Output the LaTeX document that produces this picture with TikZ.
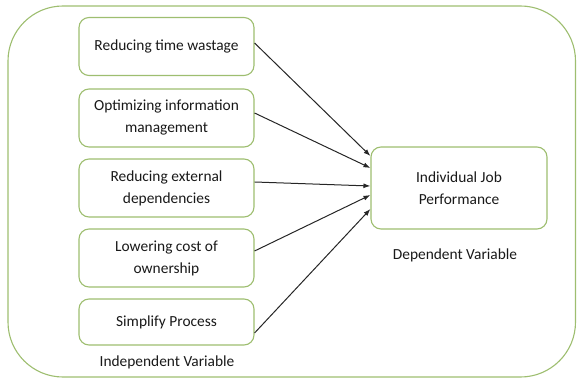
\documentclass[tikz,border=0pt]{standalone}
\usepackage{fontspec}
\setmainfont{Carlito}
\usetikzlibrary{arrows.meta}
\definecolor{boxgreen}{RGB}{158,190,112}
\definecolor{txtgray}{RGB}{25,25,25}
\tikzset{
  ivbox/.style={draw=boxgreen, line width=1.1pt, rounded corners=10pt, fill=white,
    minimum width=175pt, minimum height=58pt, align=center, text=txtgray,
    font=\fontsize{15.4}{22}\selectfont},
  lbl/.style={text=txtgray, font=\fontsize{15.4}{22}\selectfont},
  link/.style={draw=black!85, line width=1pt, -{Latex[length=7pt,width=5pt]}}
}
\begin{document}
\begin{tikzpicture}[x=1pt,y=-1pt]
\useasboundingbox (0,0) rectangle (577,379);
% outer frame
\draw [boxgreen, line width=1.1pt, rounded corners=55pt] (8,6) rectangle (575.5,377);
% independent variables
\node [ivbox] (b1) at (166.5,46.5) {Reducing time wastage};
\node [ivbox] (b2) at (166.5,118) {Optimizing information\\management};
\node [ivbox] (b3) at (166.5,188) {Reducing external\\dependencies};
\node [ivbox] (b4) at (166.5,258) {Lowering cost of\\ownership};
\node [ivbox, minimum height=46pt] (b5) at (166.5,322) {Simplify Process};
\node [lbl] (ivlbl) at (167,362) {Independent Variable};
% dependent variable
\node [ivbox, minimum width=176pt, minimum height=82pt] (dv) at (459,188) {Individual Job\\Performance};
\node [lbl] (dvlbl) at (455,255) {Dependent Variable};
% arrows
\draw [link] ([yshift=3.5pt]b1.east) -- ([yshift=32pt]dv.west);
\draw [link] ([yshift=5pt]b2.east) -- ([yshift=20pt]dv.west);
\draw [link] ([yshift=6pt]b3.east) -- ([yshift=2pt]dv.west);
\draw [link] ([yshift=7pt]b4.east) -- ([yshift=-7pt]dv.west);
\draw [link] ([yshift=-11pt]b5.east) -- ([yshift=-21pt]dv.west);
\end{tikzpicture}
\end{document}
